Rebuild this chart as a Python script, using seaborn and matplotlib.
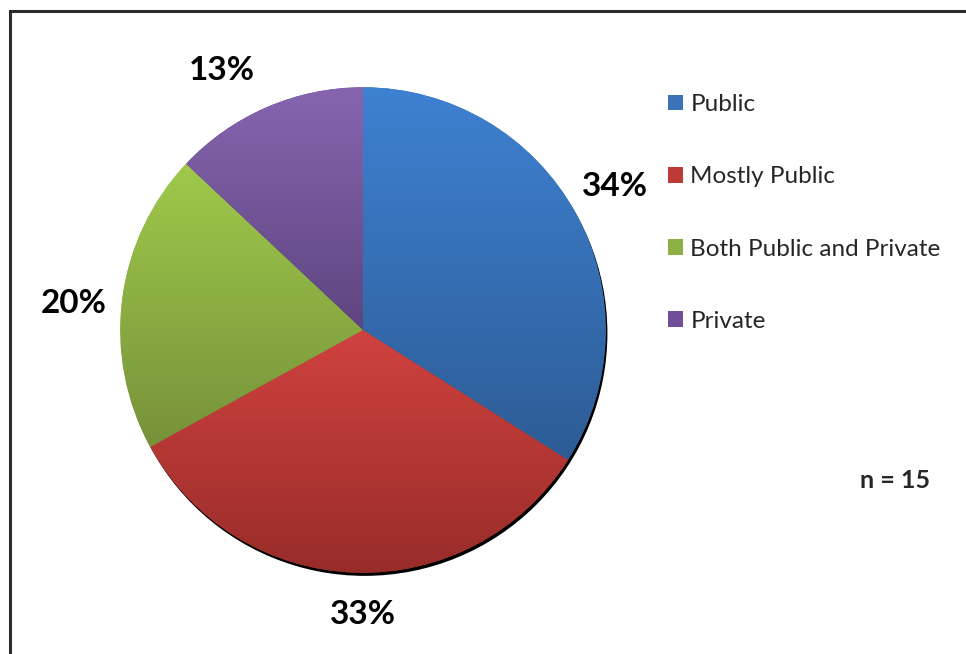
import numpy as np
import matplotlib
matplotlib.use("Agg")
import matplotlib.pyplot as plt
import seaborn as sns
from matplotlib.colors import LinearSegmentedColormap
from matplotlib.patches import Rectangle, Circle, Patch

# data
categories = ["Public", "Mostly Public", "Both Public and Private", "Private"]
shares = [34, 33, 20, 13]
pct_labels = ["34%", "33%", "20%", "13%"]
n_label = "n = 15"

# gradient colours (top, bottom) per slice, and flat colours for the legend
grad_top = ["#3E81D1", "#D0423F", "#A0C94B", "#8665B0"]
grad_bottom = ["#2D5C95", "#982C29", "#76923A", "#5E4580"]
flat_colors = ["#3A73BA", "#BD3A37", "#8CB044", "#704F98"]

# where the percentage labels sit (pie data units, radius = 1)
label_pos = [(1.04, 0.60), (0.0, -1.16), (-1.19, 0.12), (-0.58, 1.08)]

sns.set_style("white")
plt.rcParams['font.family'] = ['Lato', 'DejaVu Sans']

fig = plt.figure(figsize=(9.66, 6.54), dpi=100)
fig.patch.set_facecolor("white")

# pie axes: centre ~(363,330) px, radius ~243 px
W, H = 966, 654
ax = fig.add_axes([(363 - 250) / W, (324 - 250) / H, 500 / W, 500 / H])

# dark shadow under the pie (bottom-right)
ax.add_patch(Circle((0.007, -0.013), 1.0, facecolor="black", edgecolor="none", zorder=0))

wedges, texts, autotexts = ax.pie(
    shares, colors=flat_colors, startangle=90, counterclock=False,
    labels=None, autopct=lambda p: "", pctdistance=1.2,
    wedgeprops=dict(linewidth=0), radius=1.0)

# vertical gradient inside each slice
grad = np.linspace(0, 1, 256).reshape(-1, 1)
for w, top, bot in zip(wedges, grad_top, grad_bottom):
    w.set_zorder(1)
    ext = w.get_path().get_extents()
    cmap = LinearSegmentedColormap.from_list("g", [bot, top])
    im = ax.imshow(grad, extent=[ext.x0, ext.x1, ext.y0, ext.y1], origin="lower",
                   cmap=cmap, aspect="auto", zorder=2, interpolation="bilinear")
    im.set_clip_path(w)

# percentage labels
for t, lab, pos in zip(autotexts, pct_labels, label_pos):
    t.set_text(lab)
    t.set_position(pos)
    t.set_fontsize(24)
    t.set_fontweight("bold")
    t.set_color("black")
    t.set_va("center_baseline")
    t.set_zorder(5)

ax.set_xlim(-1.03, 1.03)
ax.set_ylim(-1.03, 1.03)
ax.set_aspect("equal")
ax.axis("off")

# legend on the right
handles = [Patch(facecolor=c, edgecolor="none") for c in flat_colors]
fig.legend(handles, categories, loc="upper left",
           bbox_to_anchor=(668 / W, 1 - 94 / H), frameon=False,
           fontsize=17.5, handlelength=0.62, handleheight=0.62,
           handletextpad=0.3, labelspacing=2.11, borderpad=0, borderaxespad=0)

fig.text(895 / W, 1 - 479 / H, n_label, fontsize=18, fontweight="bold",
         ha="center", va="center_baseline")

# chart border (right and bottom edges fall outside the image)
fig.patches.append(Rectangle((10 / W, -0.05), 1.2, 1 - 11 / H + 0.05,
                             transform=fig.transFigure, fill=False,
                             edgecolor="#2b2b2b", linewidth=2.2, clip_on=False))

fig.savefig("out.png", dpi=100, facecolor="white")
